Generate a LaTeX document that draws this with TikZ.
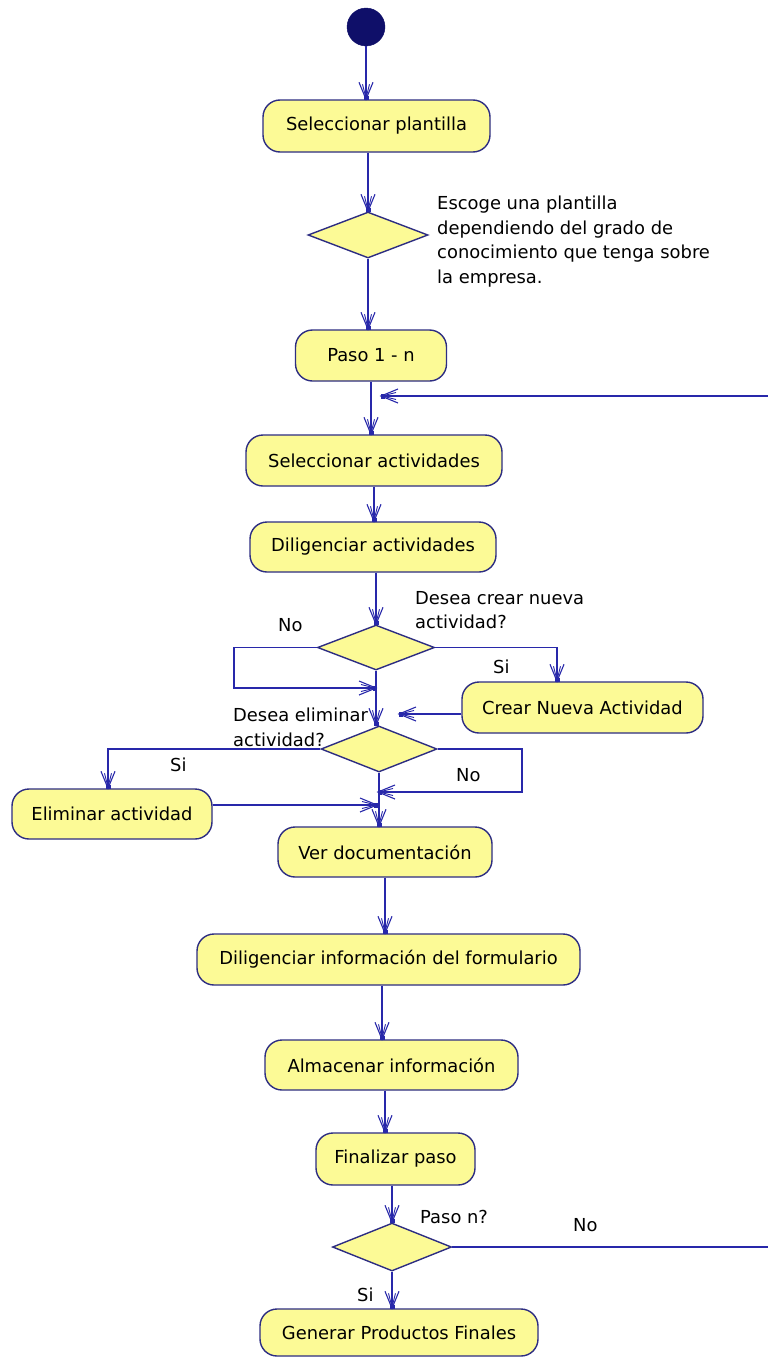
\documentclass[tikz,border=0pt]{standalone}
\usepackage{fontspec}
\setmainfont{DejaVu Sans}
\usetikzlibrary{shapes.geometric,decorations.markings}

\definecolor{lineblue}{RGB}{40,40,170}
\definecolor{boxborder}{RGB}{45,45,130}
\definecolor{boxfill}{RGB}{252,250,150}
\definecolor{startfill}{RGB}{15,15,105}

\newcommand\lblfont{\fontsize{17.9}{24.5}\selectfont}

% UML style open arrow head: doubled barbs and a small square at the tip
\newcommand\umlhead{%
  \draw[lineblue, line width=1.1pt] (-17,7) -- (0,0) -- (-17,-7);
  \draw[lineblue, line width=0.9pt] (-15,3.5) -- (-1,0) -- (-15,-3.5);
  \fill[lineblue] (-3.5,-2.5) rectangle (0.5,2.5);
}

\tikzset{
  activity/.style={draw=boxborder, fill=boxfill, line width=1.4pt,
    rounded corners=17pt, inner sep=0pt, font=\lblfont, text=black},
  decision/.style={diamond, draw=boxborder, fill=boxfill, line width=1.4pt,
    inner sep=0pt},
  lbl/.style={font=\lblfont, inner sep=0pt, text=black},
  link/.style={draw=lineblue, line width=1.8pt},
  flow/.style={link, postaction={decorate},
    decoration={markings, mark=at position 1 with {\umlhead}}},
}

\begin{document}
\begin{tikzpicture}[x=1pt, y=-1pt]
  \fill[white] (0,0) rectangle (768,1357);
  \useasboundingbox (0,0) rectangle (768,1357);

  % initial state
  \node[circle, fill=startfill, draw=startfill, minimum size=38pt, inner sep=0pt] (start) at (366,27) {};

  % activities
  \node[activity, minimum width=227pt, minimum height=52pt] (sel)     at (376.5,126)   {Seleccionar plantilla};
  \node[activity, minimum width=151pt, minimum height=51pt] (paso)    at (371,355.5)   {Paso 1 - n};
  \node[activity, minimum width=256pt, minimum height=51pt] (selact)  at (374,460.5)   {Seleccionar actividades};
  \node[activity, minimum width=246pt, minimum height=50pt] (dilact)  at (373,547)     {Diligenciar actividades};
  \node[activity, minimum width=241pt, minimum height=51pt] (crear)   at (582.5,707.5) {Crear Nueva Actividad};
  \node[activity, minimum width=200pt, minimum height=50pt] (elim)    at (112,814)     {Eliminar actividad};
  \node[activity, minimum width=214pt, minimum height=50pt] (verdoc)  at (385,852)     {Ver documentación};
  \node[activity, minimum width=383pt, minimum height=51pt] (dilinfo) at (388.5,959.5) {Diligenciar información del formulario};
  \node[activity, minimum width=253pt, minimum height=50pt] (alm)     at (391.5,1065)  {Almacenar información};
  \node[activity, minimum width=159pt, minimum height=52pt] (fin)     at (395.5,1159)  {Finalizar paso};
  \node[activity, minimum width=278pt, minimum height=47pt] (gen)     at (399,1332.5)  {Generar Productos Finales};

  % decisions
  \node[decision, minimum width=120pt, minimum height=46pt] (d1) at (368,235) {};
  \node[decision, minimum width=117pt, minimum height=45pt] (d2) at (376,647.5) {};
  \node[decision, minimum width=116pt, minimum height=46pt] (d3) at (379,749) {};
  \node[decision, minimum width=119pt, minimum height=48pt] (d4) at (392,1247) {};

  % texts beside the decisions
  \node[lbl, anchor=north west, align=left] (note) at (437,196)
    {Escoge una plantilla\\dependiendo del grado de\\conocimiento que tenga sobre\\la empresa.};
  \node[lbl, anchor=north west, align=left] (qcrear) at (415,591) {Desea crear nueva\\actividad?};
  \node[lbl, anchor=north west, align=left] (qelim) at (233,708) {Desea eliminar\\actividad?};
  \node[lbl, anchor=north west] (qpaso) at (420,1209.5) {Paso n?};
  \node[lbl, anchor=west] (no1) at (278,625) {No};
  \node[lbl, anchor=west] (si1) at (493,667) {Si};
  \node[lbl, anchor=west] (si2) at (170,765) {Si};
  \node[lbl, anchor=west] (no2) at (456,775) {No};
  \node[lbl, anchor=west] (no3) at (573,1225) {No};
  \node[lbl, anchor=west] (si3) at (357,1295) {Si};

  % merge points on the main axis and loop route
  \coordinate (m1) at (376,688);
  \coordinate (m2) at (378,792);
  \coordinate (m3) at (377,805);
  \coordinate (crearin) at (399,714);
  \coordinate (loopin) at (381,396);
  \coordinate (loopbot) at (772,1247);
  \coordinate (looptop) at (772,396);

  % main sequence
  \draw[flow] (start) -- (start |- sel.north);
  \draw[flow] (sel.south -| d1) -- (d1.north);
  \draw[flow] (d1.south) -- (d1.south |- paso.north);
  \draw[flow] (paso.south) -- (paso.south |- selact.north);
  \draw[flow] (selact.south) -- (selact.south |- dilact.north);
  \draw[flow] (dilact.south -| d2) -- (d2.north);
  \draw[flow] (d2.south) -- (d2.south |- d3.north);
  \draw[flow] (d3.south) -- (d3.south |- verdoc.north);
  \draw[flow] (verdoc.south) -- (verdoc.south |- dilinfo.north);
  \draw[flow] ([xshift=-6.5pt]dilinfo.south) -- ([xshift=-6.5pt]dilinfo.south |- alm.north);
  \draw[flow] ([xshift=-6.5pt]alm.south) -- ([xshift=-6.5pt]alm.south |- fin.north);
  \draw[flow] (fin.south -| d4) -- (d4.north);
  \draw[flow] (d4.south) -- (d4.south |- gen.north);

  % branches of the first question
  \draw[flow] (d2.west) -- ++(-83,0) |- (m1);
  \draw[flow] (d2.east) -| ([xshift=-25.5pt]crear.north);
  \draw[flow] ([yshift=-6.5pt]crear.west) -- (crearin);

  % branches of the second question
  \draw[flow] (d3.west) -| ([xshift=-4pt]elim.north);
  \draw[flow] ([yshift=9pt]elim.east) -- (m3);
  \draw[flow] (d3.east) -- ++(84,0) |- (m2);

  % back to the next step
  \draw[flow] (d4.east) -- (loopbot) -- (looptop) -- (loopin);
\end{tikzpicture}
\end{document}
